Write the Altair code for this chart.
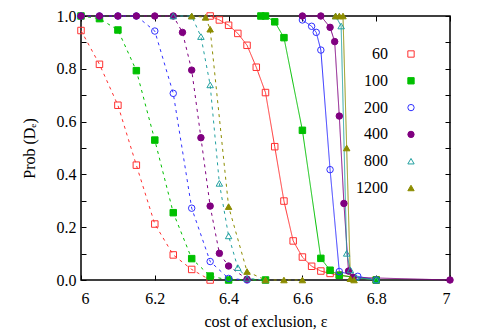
import altair as alt
import pandas as pd

labels = ["60", "100", "200", "400", "800", "1200"]
colors = ["#ff3030", "#00c000", "#3030ff", "#800080", "#20a0a0", "#8c8c00"]
shapes = ["square", "square", "circle", "circle", "triangle-up", "triangle-up"]
fills = ["transparent", "#00c000", "transparent", "#800080", "transparent", "#8c8c00"]

# dashed family (left)
d60_x = [6.0, 6.05, 6.1, 6.15, 6.2, 6.25, 6.3, 6.35]
d60_p = [0.945, 0.817, 0.662, 0.435, 0.212, 0.095, 0.040, 0.0]
d100_x = [6.0, 6.05, 6.1, 6.15, 6.2, 6.25, 6.3, 6.35, 6.4, 6.5]
d100_p = [1.0, 0.99, 0.947, 0.793, 0.53, 0.255, 0.081, 0.015, 0.0, 0.0]
d200_x = [6.0, 6.05, 6.1, 6.15, 6.2, 6.25, 6.3, 6.35, 6.4, 6.45]
d200_p = [1.0, 1.0, 1.0, 1.0, 0.943, 0.707, 0.272, 0.07, 0.006, 0.0]
d400_x = [6.0, 6.05, 6.1, 6.15, 6.2, 6.25, 6.275, 6.3, 6.325, 6.35, 6.375, 6.4, 6.45]
d400_p = [1.0, 1.0, 1.0, 1.0, 1.0, 1.0, 0.938, 0.795, 0.539, 0.28, 0.101, 0.053, 0.003]
d800_x = [6.25, 6.3, 6.325, 6.35, 6.375, 6.4, 6.425, 6.45, 6.5]
d800_p = [1.0, 1.0, 0.922, 0.739, 0.366, 0.167, 0.047, 0.006, 0.0]
d1200_x = [6.3, 6.3375, 6.35, 6.4, 6.45, 6.5, 6.55, 6.6]
d1200_p = [1.0, 0.995, 0.95, 0.278, 0.032, 0.0, 0.0, 0.0]

# solid family (right)
s60_x = [6.35, 6.375, 6.4, 6.425, 6.45, 6.475, 6.5, 6.525, 6.55, 6.575, 6.6, 6.625, 6.65, 6.675, 6.7, 6.8]
s60_p = [1.0, 0.985, 0.965, 0.934, 0.889, 0.806, 0.71, 0.505, 0.299, 0.148, 0.087, 0.052, 0.034, 0.025, 0.018, 0.0]
s100_x = [6.4875, 6.5, 6.525, 6.55, 6.6, 6.65, 6.675, 6.7, 6.8]
s100_p = [1.0, 1.0, 0.978, 0.918, 0.567, 0.082, 0.037, 0.018, 0.0]
s200_x = [6.6, 6.625, 6.6375, 6.65, 6.675, 6.7, 6.75, 6.8]
s200_p = [0.985, 0.961, 0.938, 0.871, 0.418, 0.032, 0.014, 0.0]
s400_x = [6.6, 6.65, 6.675, 6.6875, 6.7, 6.7125, 6.725, 6.7375, 7.0]
s400_p = [1.0, 1.0, 0.957, 0.903, 0.621, 0.29, 0.034, 0.01, 0.0]
s800_x = [6.69, 6.705, 6.72, 6.73, 6.745, 6.8]
s800_p = [1.0, 0.962, 0.101, 0.038, 0.01, 0.0]
s1200_x = [6.69, 6.7, 6.71, 6.72, 6.73, 6.74]
s1200_p = [1.0, 1.0, 1.0, 0.5, 0.005, 0.0]

dashed = [(d60_x, d60_p), (d100_x, d100_p), (d200_x, d200_p),
          (d400_x, d400_p), (d800_x, d800_p), (d1200_x, d1200_p)]
solid = [(s60_x, s60_p), (s100_x, s100_p), (s200_x, s200_p),
         (s400_x, s400_p), (s800_x, s800_p), (s1200_x, s1200_p)]

rows = []
for lab, (xs, ps) in zip(labels, solid):
    for x, p in zip(xs, ps):
        rows.append({"x": x, "p": p, "N": lab, "kind": "solid", "grp": lab + "s"})
for lab, (xs, ps) in zip(labels, dashed):
    for x, p in zip(xs, ps):
        rows.append({"x": x, "p": p, "N": lab, "kind": "dashed", "grp": lab + "d"})
df = pd.DataFrame(rows)

FONT = "Liberation Serif"
xdom = alt.Scale(domain=[6, 7], nice=False, zero=False)
ydom = alt.Scale(domain=[0, 1], nice=False, zero=False)
xticks = [6, 6.2, 6.4, 6.6, 6.8, 7]
yticks = [0, 0.1, 0.2, 0.3, 0.4, 0.5, 0.6, 0.7, 0.8, 0.9, 1.0]

common_axis = dict(tickSize=5, offset=-5, domain=False, grid=False,
                   tickColor="black", tickWidth=1, labelFont=FONT, labelFontSize=16,
                   labelColor="black", titleFont=FONT, titleFontSize=16,
                   titleFontWeight="normal", titleColor="black")

x_axis = alt.Axis(values=xticks, format="~g", labelPadding=10,
                  title="cost of exclusion,  ε", titlePadding=7, **common_axis)
y_axis = alt.Axis(values=yticks, labelExpr="(round(datum.value*10) % 2 == 0) ? format(datum.value, '.1f') : ''",
                  labelPadding=5, title="Prob (Dₑ)", titlePadding=19, **common_axis)

color_scale = alt.Scale(domain=labels, range=colors)

legend = alt.Legend(title=None, orient="none", legendX=322, legendY=30, padding=0,
                    labelFont=FONT, labelFontSize=16, labelColor="black",
                    labelAlign="right", labelOffset=5, rowPadding=10.8,
                    labelExpr="datum.label + '\u2800\u2800\u2800'", labelLimit=300,
                    symbolSize=40, symbolStrokeWidth=1)

lines = alt.Chart(df).mark_line(strokeWidth=1).encode(
    x=alt.X("x:Q", scale=xdom, axis=x_axis),
    y=alt.Y("p:Q", scale=ydom, axis=y_axis),
    color=alt.Color("N:N", scale=color_scale, legend=None),
    strokeDash=alt.StrokeDash("kind:N", scale=alt.Scale(domain=["dashed", "solid"], range=[[3, 4], [1, 0]]), legend=None),
    detail="grp:N",
)

points = alt.Chart(df).mark_point(filled=False, size=42, strokeWidth=1, opacity=1).encode(
    x=alt.X("x:Q", scale=xdom, axis=None),
    y=alt.Y("p:Q", scale=ydom, axis=None),
    color=alt.Color("N:N", scale=color_scale, sort=labels, legend=legend),
    shape=alt.Shape("N:N", scale=alt.Scale(domain=labels, range=shapes), sort=labels, legend=legend),
    fill=alt.Fill("N:N", scale=alt.Scale(domain=labels, range=fills), sort=labels, legend=legend),
)

mirror_axis = dict(tickSize=5, offset=-5, domain=False, grid=False, labels=False,
                   tickColor="black", tickWidth=1, title=None)
mirror = alt.Chart(df).mark_point(opacity=0).encode(
    x=alt.X("x:Q", scale=xdom, axis=alt.Axis(orient="top", values=xticks, **mirror_axis)),
    y=alt.Y("p:Q", scale=ydom, axis=alt.Axis(orient="right", values=yticks, **mirror_axis)),
)

chart = alt.layer(lines, points, mirror).resolve_scale(
    x="independent", y="independent", color="independent",
    shape="independent", fill="independent"
).properties(
    width=369, height=264,
    autosize=alt.AutoSizeParams(type="none"),
    padding={"left": 73, "top": 8, "right": 30, "bottom": 52},
).configure_view(stroke="black", strokeWidth=1.5)

chart.save("out.html", embed_options={"renderer": "svg", "actions": False})
